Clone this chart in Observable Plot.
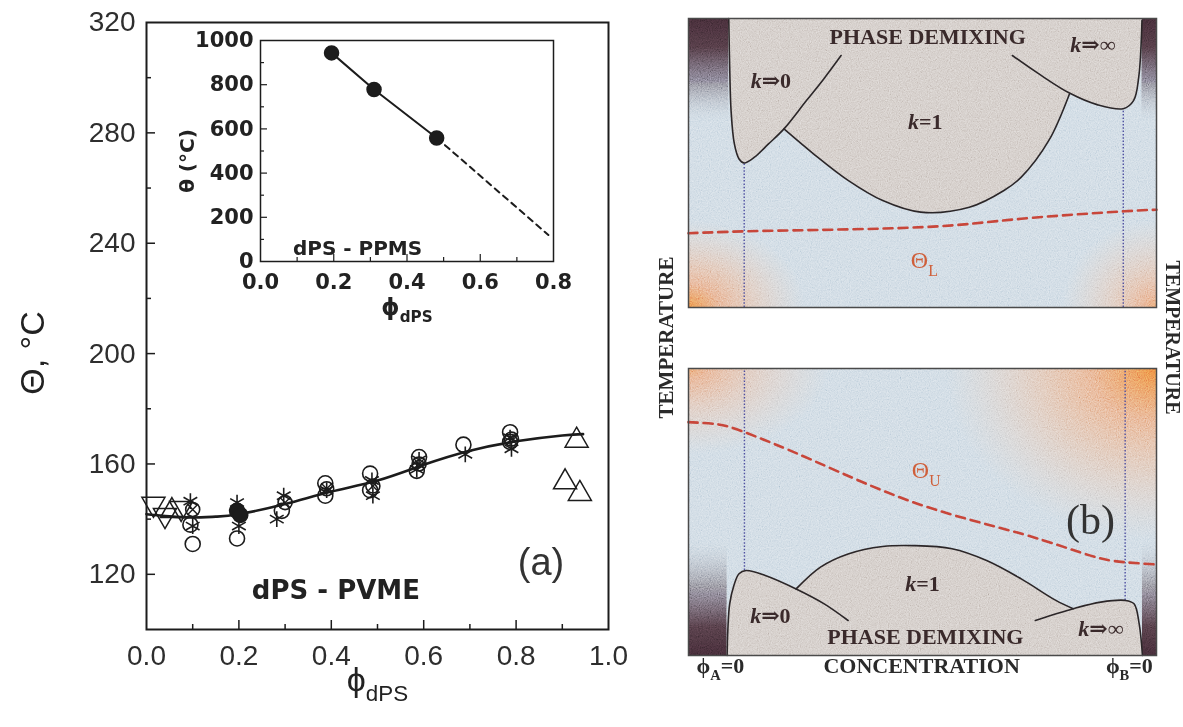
<!DOCTYPE html>
<html><head><meta charset="utf-8">
<script src="https://cdn.jsdelivr.net/npm/d3@7"></script>
<script src="https://cdn.jsdelivr.net/npm/@observablehq/plot@0.6"></script>
<style>
html,body{margin:0;padding:0;background:#fff;}
#wrap{position:relative;width:1183px;height:727px;overflow:hidden;background:#fff;}
.slot{position:absolute;}
.slot svg{max-width:none !important;}
</style></head>
<body>
<svg width="0" height="0" style="position:absolute;left:0;top:0">
<defs>
  <linearGradient id="darkTop" x1="0" y1="0" x2="0" y2="1">
    <stop offset="0" stop-color="#3b2630"/>
    <stop offset="0.1" stop-color="#47333c"/>
    <stop offset="0.22" stop-color="#6f6a78" stop-opacity="0.9"/>
    <stop offset="0.36" stop-color="#b9c5d1" stop-opacity="0"/>
  </linearGradient>
  <linearGradient id="darkBot" x1="0" y1="1" x2="0" y2="0">
    <stop offset="0" stop-color="#3b2630"/>
    <stop offset="0.1" stop-color="#4a363f"/>
    <stop offset="0.24" stop-color="#76727e" stop-opacity="0.85"/>
    <stop offset="0.4" stop-color="#b9c5d1" stop-opacity="0"/>
  </linearGradient>
  <radialGradient id="orBL" cx="0" cy="1" r="1">
    <stop offset="0" stop-color="#ea7a38" stop-opacity="0.95"/>
    <stop offset="0.45" stop-color="#f0a272" stop-opacity="0.55"/>
    <stop offset="1" stop-color="#f4c6a6" stop-opacity="0"/>
  </radialGradient>
  <radialGradient id="orBR" cx="1" cy="1" r="1">
    <stop offset="0" stop-color="#ec8a50" stop-opacity="0.85"/>
    <stop offset="0.45" stop-color="#f0ab80" stop-opacity="0.45"/>
    <stop offset="1" stop-color="#f4c6a6" stop-opacity="0"/>
  </radialGradient>
  <radialGradient id="orTL" cx="0" cy="0" r="1">
    <stop offset="0" stop-color="#ec8a4e" stop-opacity="0.85"/>
    <stop offset="0.45" stop-color="#f0aa80" stop-opacity="0.45"/>
    <stop offset="1" stop-color="#f4c6a6" stop-opacity="0"/>
  </radialGradient>
  <radialGradient id="orTR" cx="1" cy="0" r="1">
    <stop offset="0" stop-color="#ea7636" stop-opacity="1"/>
    <stop offset="0.35" stop-color="#ef9a62" stop-opacity="0.7"/>
    <stop offset="1" stop-color="#f4c6a6" stop-opacity="0"/>
  </radialGradient>
  <filter id="grain" x="0" y="0" width="1" height="1">
    <feTurbulence type="fractalNoise" baseFrequency="0.9" numOctaves="2" seed="5" stitchTiles="stitch"/>
    <feColorMatrix type="matrix" values="0.6 0.6 0.6 0 -0.4  0.6 0.6 0.6 0 -0.4  0.6 0.6 0.6 0 -0.4  0 0 0 0 1"/>
  </filter>
</defs>
</svg>
<div id="wrap">
  <div class="slot" id="pa" style="left:0;top:0;width:640px;height:727px"></div>
  <div class="slot" id="pi" style="left:170px;top:25px;width:400px;height:300px"></div>
  <div class="slot" id="pu" style="left:640px;top:0;width:543px;height:330px"></div>
  <div class="slot" id="pl" style="left:640px;top:340px;width:543px;height:387px"></div>
</div>
<script>
// ---------------- Panel (a): dPS - PVME ----------------
const xLabels = [0, 0.2, 0.4, 0.6, 0.8, 1.0];
const xMajor = [0.2, 0.4, 0.6, 0.8];
const xMinor = [0.1, 0.3, 0.5, 0.7, 0.9];
const yLabels = [120, 160, 200, 240, 280, 320];
const yMajor = [120, 160, 200, 240, 280];
const yMinor = [140, 180, 220, 260, 300];

const fitPhi   = [0, 0.05, 0.1, 0.15, 0.2, 0.3, 0.4, 0.5, 0.6, 0.7, 0.8, 0.9, 0.945];
const fitTheta = [141.8, 141.0, 140.6, 140.9, 141.8, 145.5, 150, 154, 159.7, 164.8, 168.2, 170.3, 170.8];

const openCircles = [[0.1,131],[0.095,138],[0.196,133],[0.293,143],[0.387,153],[0.387,148.5],[0.484,156.5],[0.484,150.5],[0.585,157.5],[0.59,162.5],[0.686,167],[0.787,171.5],[0.787,168]];
const asterisks = [[0.095,146.5],[0.1,137.5],[0.196,146],[0.2,137.5],[0.297,148.5],[0.282,140],[0.39,150.5],[0.488,154],[0.49,148.5],[0.59,161.5],[0.585,158],[0.69,163.5],[0.79,165.5],[0.787,169.5]];
const filledCircles = [[0.196,143],[0.203,141.5]];
const crossedCircles = [[0.1,143.5],[0.3,146],[0.39,151],[0.49,152],[0.59,160],[0.79,169]];
const downTriangles = [[0.015,145.5],[0.04,141.4],[0.075,144]];
const upTriangles = [[0.055,143],[0.931,168.5],[0.906,153.4],[0.938,149.2]];

// ---------------- Inset: dPS - PPMS ----------------
const insetXLabels = [0, 0.2, 0.4, 0.6, 0.8];
const insetXMajor = [0.2, 0.4, 0.6];
const insetXMinor = [0.1, 0.3, 0.5, 0.7];
const insetYLabels = [0, 200, 400, 600, 800, 1000];
const insetYMajor = [200, 400, 600, 800];
const insetYMinor = [100, 300, 500, 700, 900];
const insetPhi = [0.194, 0.31, 0.481];
const insetTheta = [944, 778, 559];
const insetExtPhi = [0.481, 0.786];
const insetExtTheta = [559, 120];

// ---------------- Panel (b): schematic (concentration c, temperature t) ----------------
const upK0 = [[0.086,1.0],[0.088,0.832],[0.091,0.68],[0.098,0.566],[0.108,0.514],[0.119,0.5],[0.141,0.52],[0.171,0.566],[0.204,0.618],[0.252,0.716],[0.289,0.791],[0.326,0.872]];
const upK1 = [[0.204,0.618],[0.267,0.532],[0.341,0.44],[0.415,0.37],[0.496,0.33],[0.6,0.347],[0.674,0.405],[0.711,0.451],[0.77,0.578],[0.814,0.739]];
const upKinf = [[0.692,0.872],[0.748,0.809],[0.814,0.742],[0.873,0.702],[0.929,0.688],[0.951,0.716],[0.962,0.797],[0.969,0.993]];
const thetaL = [[0,0.257],[0.19,0.266],[0.5,0.278],[0.711,0.307],[0.932,0.333],[1,0.338]];
const upDrops = [[0.119,0.5],[0.929,0.688]];

const loK0 = [[0.0825,0],[0.084,0.087],[0.088,0.18],[0.097,0.244],[0.108,0.285],[0.123,0.296],[0.164,0.279],[0.23,0.232],[0.29,0.18],[0.341,0.122]];
const loK1 = [[0.23,0.232],[0.282,0.308],[0.341,0.354],[0.415,0.38],[0.482,0.383],[0.563,0.372],[0.637,0.331],[0.711,0.267],[0.785,0.192],[0.822,0.163]];
const loKinf = [[0.741,0.122],[0.822,0.163],[0.881,0.186],[0.933,0.192],[0.952,0.18],[0.963,0.11],[0.97,0]];
const thetaU = [[0,0.813],[0.06,0.806],[0.12,0.778],[0.267,0.679],[0.489,0.529],[0.712,0.424],[0.859,0.348],[0.933,0.325],[1,0.317]];
const loDrops = [[0.1195,0.296],[0.933,0.192]];

const upStrips = [[0,0.086],[0.969,1]];
const loStrips = [[0,0.0825],[0.97,1]];
const upGlowBL = [[0,0.25,0,0.3]];
const upGlowBR = [[0.8,1,0,0.3]];
const loGlowTL = [[0,0.3,0.7,1]];
const loGlowTR = [[0.55,1,0.4,1]];

const upNotes = [["PHASE DEMIXING",0.511,0.935],["*k*⇒0",0.176,0.785],["*k*=1",0.506,0.641],["*k*⇒∞",0.864,0.907]];
const loNotes = [["PHASE DEMIXING",0.506,0.064],["*k*⇒0",0.175,0.139],["*k*=1",0.5,0.25],["*k*⇒∞",0.881,0.093]];
const upTheta = [["Θ_{L}",0.504,0.163]];
const loTheta = [["Θ_{U}",0.508,0.645]];
const loPanel = [["(b)",0.859,0.47]];
const bottomLabels = [["ϕ_{A}=0",0.068],["CONCENTRATION",0.498],["ϕ_{B}=0",0.942]];

// ---------------- helpers ----------------
const XY = a => a.map(([x, y]) => ({x, y}));
const P = a => a.map(([c, t]) => ({c, t}));
const R = a => a.map(([c1, c2, t1, t2]) => ({c1, c2, t1, t2}));
const S = a => a.map(([c1, c2]) => ({c1, c2, t1: 0, t2: 1}));
const zip = (xs, ys) => xs.map((x, i) => ({x, y: ys[i]}));
const triDown = {draw(ctx, size) {const s = Math.sqrt(size) * 0.6824, t = s / 2, u = s * Math.sqrt(3) / 2; ctx.moveTo(0, s); ctx.lineTo(u, -t); ctx.lineTo(-u, -t); ctx.closePath();}};

function rich(svg) {
  const NS = "http://www.w3.org/2000/svg";
  svg.querySelectorAll("text").forEach(el => {
    const s = el.textContent;
    if (!/_\{|\*/.test(s)) return;
    const fs = parseFloat(getComputedStyle(el).fontSize) || 16;
    while (el.firstChild) el.removeChild(el.firstChild);
    let shift = 0;
    for (const m of s.matchAll(/_\{([^}]*)\}|\*([^*]*)\*|([^_*]+)/g)) {
      const ts = document.createElementNS(NS, "tspan");
      if (m[1] != null) {
        ts.textContent = m[1];
        ts.setAttribute("font-size", (fs * 0.66).toFixed(1));
        ts.setAttribute("dy", (fs * 0.32 - shift).toFixed(1));
        shift = fs * 0.32;
      } else {
        ts.textContent = m[2] != null ? m[2] : m[3];
        if (m[2] != null) ts.setAttribute("font-style", "italic");
        if (shift) { ts.setAttribute("dy", (-shift).toFixed(1)); shift = 0; }
      }
      el.appendChild(ts);
    }
  });
}
function grainify(svg) {
  svg.querySelectorAll('[aria-label="grain"]').forEach(g => {
    g.setAttribute("filter", "url(#grain)");
    g.setAttribute("opacity", "0.55");
    g.style.mixBlendMode = "overlay";
  });
}

const SANS = "Liberation Sans, Arial, DejaVu Sans, sans-serif";
const BOLD = "DejaVu Sans, Liberation Sans, sans-serif";
const SERIF = "Liberation Serif, Times New Roman, DejaVu Serif, serif";
const INK = "#1c1c1c";

// ---------------- main chart ----------------
const main = Plot.plot({
  width: 640, height: 727,
  marginLeft: 146, marginRight: 32, marginTop: 22, marginBottom: 98,
  x: {domain: [0, 1]}, y: {domain: [100, 320]},
  style: {background: "transparent", fontFamily: SANS, color: INK, overflow: "visible"},
  marks: [
    Plot.axisX(xMinor, {tickSize: -5, fill: "none", stroke: INK, strokeWidth: 1.5}),
    Plot.axisX(xMajor, {tickSize: -9, fill: "none", stroke: INK, strokeWidth: 1.5}),
    Plot.axisX(xLabels, {tickSize: 0, tickPadding: 16, fontSize: 28, fill: "#2e2e2e", tickFormat: d3.format(".1f"), label: null}),
    Plot.axisY(yMinor, {tickSize: -5, fill: "none", stroke: INK, strokeWidth: 1.5}),
    Plot.axisY(yMajor, {tickSize: -9, fill: "none", stroke: INK, strokeWidth: 1.5}),
    Plot.axisY(yLabels, {tickSize: 0, tickPadding: 11, fontSize: 28, fill: "#2e2e2e", tickFormat: d => String(d), label: null}),
    Plot.frame({stroke: INK, strokeWidth: 2}),
    Plot.line(zip(fitPhi, fitTheta), {x: "x", y: "y", curve: "natural", stroke: INK, strokeWidth: 2.6}),
    Plot.dot(XY(openCircles), {x: "x", y: "y", r: 7.5, stroke: INK, strokeWidth: 1.6, fill: "none"}),
    Plot.dot(XY(crossedCircles), {x: "x", y: "y", r: 7, stroke: INK, strokeWidth: 1.6, fill: "none"}),
    Plot.dot(XY(crossedCircles), {x: "x", y: "y", r: 5, symbol: "times", stroke: INK, strokeWidth: 1.4}),
    Plot.dot(XY(asterisks), {x: "x", y: "y", r: 7.5, symbol: "asterisk", stroke: INK, strokeWidth: 1.6}),
    Plot.dot(XY(filledCircles), {x: "x", y: "y", r: 7.5, fill: INK, stroke: INK}),
    Plot.dot(XY(downTriangles), {x: "x", y: "y", r: 11, symbol: triDown, stroke: INK, strokeWidth: 1.5, fill: "none"}),
    Plot.dot(XY(upTriangles), {x: "x", y: "y", r: 11, symbol: "triangle2", stroke: INK, strokeWidth: 1.5, fill: "none"}),
    Plot.text(["dPS - PVME"], {x: 0.41, y: 114.2, text: d => d, fontFamily: BOLD, fontWeight: "bold", fontSize: 26, fill: "#222"}),
    Plot.text(["(a)"], {x: 0.854, y: 124, text: d => d, fontFamily: SANS, fontSize: 38, fill: "#333"}),
    Plot.text(["Θ, °C"], {frameAnchor: "left", textAnchor: "middle", rotate: -90, dx: -113, dy: 27, text: d => d, fontSize: 34, fill: "#222"}),
    Plot.text(["ϕ_{dPS}"], {frameAnchor: "bottom", dy: 61, text: d => d, fontSize: 34, fill: "#222"})
  ]
});
document.getElementById("pa").appendChild(main);
rich(main);

// ---------------- inset ----------------
const inset = Plot.plot({
  width: 400, height: 300,
  marginLeft: 90, marginRight: 17, marginTop: 15, marginBottom: 64,
  x: {domain: [0, 0.8]}, y: {domain: [0, 1000]},
  style: {background: "transparent", fontFamily: BOLD, color: INK, overflow: "visible"},
  marks: [
    Plot.axisX(insetXMinor, {tickSize: -4, fill: "none", stroke: INK, strokeWidth: 1.2}),
    Plot.axisX(insetXMajor, {tickSize: -7, fill: "none", stroke: INK, strokeWidth: 1.2}),
    Plot.axisX(insetXLabels, {tickSize: 0, tickPadding: 13, fontSize: 21, fontWeight: "bold", fill: "#222", tickFormat: d3.format(".1f"), label: null}),
    Plot.axisY(insetYMinor, {tickSize: -4, fill: "none", stroke: INK, strokeWidth: 1.2}),
    Plot.axisY(insetYMajor, {tickSize: -7, fill: "none", stroke: INK, strokeWidth: 1.2}),
    Plot.axisY(insetYLabels, {tickSize: 0, tickPadding: 7, fontSize: 21, fontWeight: "bold", fill: "#222", tickFormat: d => String(d), label: null}),
    Plot.frame({stroke: INK, strokeWidth: 1.5}),
    Plot.line(zip(insetPhi, insetTheta), {x: "x", y: "y", stroke: INK, strokeWidth: 2}),
    Plot.line(zip(insetExtPhi, insetExtTheta), {x: "x", y: "y", stroke: INK, strokeWidth: 2, strokeDasharray: "6,5"}),
    Plot.dot(zip(insetPhi, insetTheta), {x: "x", y: "y", r: 7, fill: INK, stroke: INK}),
    Plot.text(["dPS - PPMS"], {x: 0.265, y: 57.5, text: d => d, fontWeight: "bold", fontSize: 20, fill: "#222"}),
    Plot.text(["θ (°C)"], {frameAnchor: "left", textAnchor: "middle", rotate: -90, dx: -73, dy: 10, text: d => d, fontWeight: "bold", fontSize: 20, fill: "#222"}),
    Plot.text(["ϕ_{dPS}"], {frameAnchor: "bottom", dy: 53, text: d => d, fontWeight: "bold", fontSize: 23, fill: "#222"})
  ]
});
document.getElementById("pi").appendChild(inset);
rich(inset);

// ---------------- panel (b) ----------------
const BG = "#c6d4df", GRAY = "#cac2bd", EDGE = "#2b2628", DOT = "#4e4fa0", RED = "#c8463a", LBL = "#3a2a2b";
const rectOpts = fill => ({x1: "c1", x2: "c2", y1: "t1", y2: "t2", fill});
const noteMarks = notes => [
  Plot.text(notes, {x: d => d[1], y: d => d[2], text: d => d[0], fontFamily: SERIF, fontWeight: "bold", fontSize: 22, fill: LBL})
];

const upper = Plot.plot({
  width: 543, height: 330, marginLeft: 48, marginRight: 27, marginTop: 18, marginBottom: 23,
  x: {domain: [0, 1], axis: null}, y: {domain: [0, 1], axis: null},
  style: {background: "transparent", overflow: "visible", fontFamily: SERIF},
  marks: [
    Plot.frame({fill: BG, stroke: "none"}),
    Plot.rect(S(upStrips), rectOpts("url(#darkTop)")),
    Plot.rect(R(upGlowBL), rectOpts("url(#orBL)")),
    Plot.rect(R(upGlowBR), rectOpts("url(#orBR)")),
    ...[upK0, upK1, upKinf].map(a => Plot.areaY(P(a), {x: "c", y1: "t", y2: 1, fill: GRAY, curve: "catmull-rom"})),
    Plot.frame({fill: "#808080", stroke: "none", ariaLabel: "grain"}),
    Plot.ruleX(P(upDrops), {x: "c", y1: 0, y2: "t", stroke: DOT, strokeWidth: 1.4, strokeDasharray: "1.5,1.8"}),
    ...[upK0, upK1, upKinf].map(a => Plot.line(P(a), {x: "c", y: "t", stroke: EDGE, strokeWidth: 1.6, curve: "catmull-rom"})),
    Plot.line(P(thetaL), {x: "c", y: "t", stroke: RED, strokeWidth: 2.6, strokeDasharray: "9,6", curve: "natural"}),
    ...noteMarks(upNotes),
    Plot.text(upTheta, {x: d => d[1], y: d => d[2], text: d => d[0], fontFamily: SERIF, fontSize: 24, fill: "#cf5f3a"}),
    Plot.text(["TEMPERATURE"], {frameAnchor: "bottom-left", textAnchor: "middle", rotate: -90, dx: -16, dy: 30, text: d => d, fontFamily: SERIF, fontWeight: "bold", fontSize: 21, fill: "#2a2a2a"}),
    Plot.text(["TEMPERATURE"], {frameAnchor: "bottom-right", textAnchor: "middle", rotate: 90, dx: 9, dy: 30, text: d => d, fontFamily: SERIF, fontWeight: "bold", fontSize: 20, fill: "#2a2a2a"}),
    Plot.frame({stroke: "#4a4a4a", strokeWidth: 1.5})
  ]
});
document.getElementById("pu").appendChild(upper);
rich(upper); grainify(upper);

const lower = Plot.plot({
  width: 543, height: 387, marginLeft: 48, marginRight: 27, marginTop: 28, marginBottom: 72,
  x: {domain: [0, 1], axis: null}, y: {domain: [0, 1], axis: null},
  style: {background: "transparent", overflow: "visible", fontFamily: SERIF},
  marks: [
    Plot.frame({fill: BG, stroke: "none"}),
    Plot.rect(S(loStrips), rectOpts("url(#darkBot)")),
    Plot.rect(R(loGlowTL), rectOpts("url(#orTL)")),
    Plot.rect(R(loGlowTR), rectOpts("url(#orTR)")),
    ...[loK0, loK1, loKinf].map(a => Plot.areaY(P(a), {x: "c", y1: 0, y2: "t", fill: GRAY, curve: "catmull-rom"})),
    Plot.frame({fill: "#808080", stroke: "none", ariaLabel: "grain"}),
    Plot.ruleX(P(loDrops), {x: "c", y1: "t", y2: 1, stroke: DOT, strokeWidth: 1.4, strokeDasharray: "1.5,1.8"}),
    ...[loK0, loK1, loKinf].map(a => Plot.line(P(a), {x: "c", y: "t", stroke: EDGE, strokeWidth: 1.6, curve: "catmull-rom"})),
    Plot.line(P(thetaU), {x: "c", y: "t", stroke: RED, strokeWidth: 2.6, strokeDasharray: "9,6", curve: "natural"}),
    ...noteMarks(loNotes),
    Plot.text(loTheta, {x: d => d[1], y: d => d[2], text: d => d[0], fontFamily: SERIF, fontSize: 24, fill: "#cf5f3a"}),
    Plot.text(loPanel, {x: d => d[1], y: d => d[2], text: d => d[0], fontFamily: SERIF, fontSize: 42, fill: "#333"}),
    Plot.text(bottomLabels, {x: d => d[1], frameAnchor: "bottom", dy: 17, text: d => d[0], fontFamily: SERIF, fontWeight: "bold", fontSize: 22, fill: "#2a2a2a"}),
    Plot.frame({stroke: "#4a4a4a", strokeWidth: 1.5})
  ]
});
document.getElementById("pl").appendChild(lower);
rich(lower); grainify(lower);
</script>
</body></html>
